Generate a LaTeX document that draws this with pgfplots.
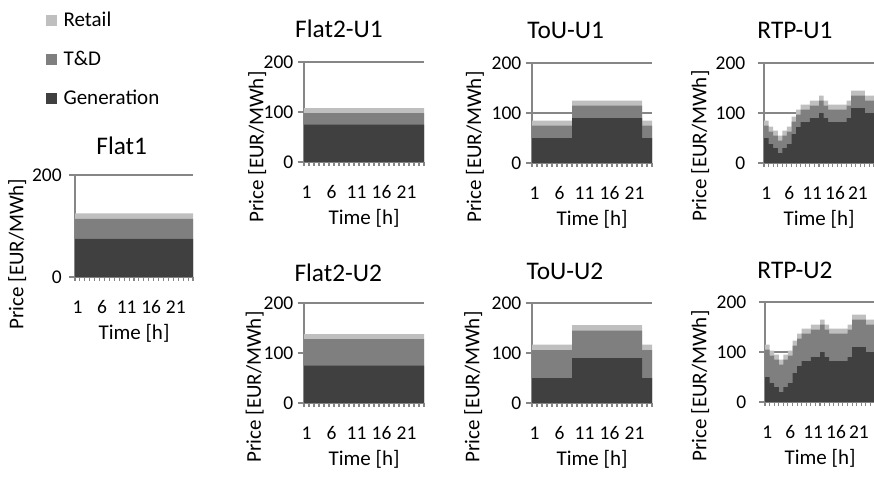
\documentclass[border=0pt]{standalone}
\usepackage{fontspec}
\setmainfont{Carlito}
\usepackage{pgfplots}
\pgfplotsset{compat=1.18}
\usepackage{pgfplotstable}

\definecolor{gen}{HTML}{404040}
\definecolor{td}{HTML}{7F7F7F}
\definecolor{ret}{HTML}{BFBFBF}
\definecolor{axgray}{HTML}{868686}

% hour h holds its value until h+1 (const plot), last row closes the day
\pgfplotstableread{
h gen td ret
0 75 39 11
24 75 39 11
}\flatone
\pgfplotstableread{
h gen td ret
0 75 23 10
24 75 23 10
}\flattwoa
\pgfplotstableread{
h gen td ret
0 75 53 10
24 75 53 10
}\flattwob
\pgfplotstableread{
h gen td ret
0 50 25 10
8 90 25 10
22 50 25 10
24 50 25 10
}\toua
\pgfplotstableread{
h gen td ret
0 50 56 11
8 90 55 11
22 50 56 11
24 50 56 11
}\toub
\pgfplotstableread{
h gen td ret
0 50 25 10
1 38 25 10
2 30 25 10
3 20 25 10
4 30 25 10
5 38 25 10
6 58 25 10
7 72 25 10
8 82 25 10
9 82 25 10
10 90 25 10
11 90 25 10
12 100 25 10
13 90 25 10
14 82 25 10
15 82 25 10
16 82 25 10
17 82 25 10
18 90 25 10
19 110 25 10
20 110 25 10
21 110 25 10
22 100 25 10
23 100 25 10
24 100 25 10
}\rtpa
\pgfplotstableread{
h gen td ret
0 50 55 10
1 38 55 10
2 30 55 10
3 20 55 10
4 30 55 10
5 38 55 10
6 58 55 10
7 72 55 10
8 82 55 10
9 82 55 10
10 90 55 10
11 90 55 10
12 100 55 10
13 90 55 10
14 82 55 10
15 82 55 10
16 82 55 10
17 82 55 10
18 90 55 10
19 110 55 10
20 110 55 10
21 110 55 10
22 100 55 10
23 100 55 10
24 100 55 10
}\rtpb

\pgfplotsset{
  layers/fgaxis/.define layer set={axis background,axis grid,main,axis ticks,axis lines,axis tick labels,axis descriptions,axis foreground}{},
  panel/.style={
    set layers=fgaxis,
    scale only axis, width=90pt, height=75pt,
    anchor=south west,
    xmin=0, xmax=24, ymin=0, ymax=200,
    axis x line*=bottom, axis y line*=left,
    axis line style={draw=axgray, line width=0.9pt},
    ytick={0,100,200}, ymajorgrids,
    grid style={draw=axgray, line width=0.9pt},
    ytick style={draw=axgray, line width=0.9pt},
    major tick length=4.5pt, minor tick length=3pt,
    tick align=outside,
    xtick={0.5,5.5,10.5,15.5,20.5}, xticklabels={1,6,11,16,21},
    major x tick style={draw=none},
    minor xtick={0,1,...,24},
    minor x tick style={draw=axgray, line width=0.8pt},
    /pgf/number format/assume math mode=true,
    tick label style={font=\fontsize{14.6}{16}\selectfont},
    xticklabel style={anchor=base, yshift=-22.5pt},
    yticklabel style={anchor=east},
    xlabel={Time [h]}, ylabel={Price [EUR/MWh]},
    label style={font=\fontsize{15.75}{18}\selectfont},
    xlabel style={at={(axis description cs:0.5,0)}, anchor=base, yshift=-46.5pt},
    title style={font=\fontsize{19}{22}\selectfont},
    const plot,
  },
  rtp/.style={width=82.5pt, yticklabel style={xshift=-6pt}},
  tpos/.style 2 args={title style={at={(axis description cs:0.5,1)}, anchor=base, xshift=#1, yshift=#2}},
  ylab/.style 2 args={ylabel style={at={(axis description cs:#1,#2)}, anchor=center}},
}
% three stacked layers, drawn top-down from the zero line
\newcommand{\layers}[1]{%
  \addplot[fill=ret, draw=none] table[x=h, y expr=\thisrow{gen}+\thisrow{td}+\thisrow{ret}] {#1} \closedcycle;
  \addplot[fill=td, draw=none] table[x=h, y expr=\thisrow{gen}+\thisrow{td}] {#1} \closedcycle;
  \addplot[fill=gen, draw=none] table[x=h, y=gen] {#1} \closedcycle;
}

\begin{document}
\begin{tikzpicture}
% Flat1
\begin{axis}[panel, at={(56.25pt,149.25pt)}, width=88.5pt, height=76.5pt,
  ytick={0,200}, title={Flat1}, tpos={-9.2pt}{9pt}, ylab={-0.49}{0.225},
  yticklabel style={xshift=-2pt},
  legend style={at={(axis description cs:-0.2458,2.605)}, anchor=north west,
    draw=none, fill=none, inner sep=0pt, column sep=4.7pt, row sep=15.25pt,
    font=\fontsize{15.75}{18}\selectfont,
    nodes={inner sep=0pt, text height=11pt, text depth=3pt}},
  legend cell align=left,
  legend image code/.code={\fill[#1] (0pt,-4.1pt) rectangle (8.25pt,4.1pt);}]
\layers{\flatone}
\legend{Retail, T\&D, Generation}
\end{axis}
% Flat2-U1
\begin{axis}[panel, at={(228pt,235.5pt)}, title={Flat2-U1}, tpos={-18.75pt}{12pt}, ylab={-0.39}{0.15}]
\layers{\flattwoa}
\end{axis}
% ToU-U1
\begin{axis}[panel, at={(399pt,234.75pt)}, title={ToU-U1}, tpos={-19.7pt}{12pt}, ylab={-0.475}{0.16}]
\layers{\toua}
\end{axis}
% RTP-U1
\begin{axis}[panel, rtp, at={(573pt,234.75pt)}, title={RTP-U1}, tpos={-18pt}{12pt}, ylab={-0.58}{0.17}]
\layers{\rtpa}
\end{axis}
% Flat2-U2
\begin{axis}[panel, at={(228pt,54.75pt)}, title={Flat2-U2}, tpos={-19.3pt}{10.5pt}, ylab={-0.41}{0.16}]
\layers{\flattwob}
\end{axis}
% ToU-U2
\begin{axis}[panel, at={(399pt,54.75pt)}, title={ToU-U2}, tpos={-20.25pt}{11.7pt}, ylab={-0.49}{0.16}]
\layers{\toub}
\end{axis}
% RTP-U2
\begin{axis}[panel, rtp, at={(573.75pt,55.5pt)}, title={RTP-U2}, tpos={-18.75pt}{12pt}, ylab={-0.59}{0.16}]
\layers{\rtpb}
\end{axis}
\pgfresetboundingbox
\useasboundingbox (0,0) rectangle (655.5pt,357pt);
\end{tikzpicture}
\end{document}
